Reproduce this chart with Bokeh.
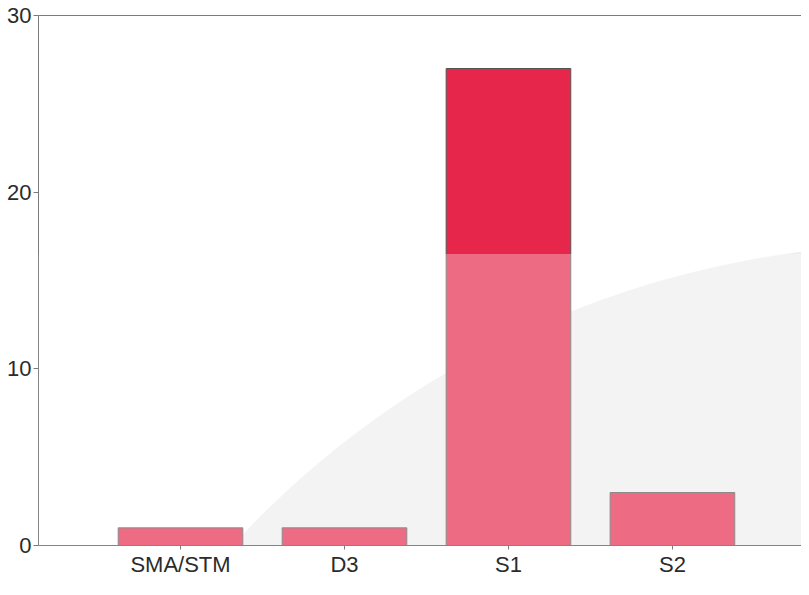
from bokeh.plotting import figure
from bokeh.models import Range1d, LinearAxis, FixedTicker, BoxAnnotation
from bokeh.embed import file_html
from bokeh.resources import INLINE

categories = ["SMA/STM", "D3", "S1", "S2"]
counts = [1, 1, 27, 3]
y_ticks = [0, 10, 20, 30]

positions = list(range(1, len(categories) + 1))

BAR = "#e6264b"
AXIS = "#7a7a7a"
TXT = "#2b2b2b"
FONT = "Liberation Sans"

p = figure(width=801, height=579, output_backend="svg", toolbar_location=None,
           x_range=Range1d(0.134, 4.787),
           y_range=Range1d(0, 30),
           min_border_left=38, min_border_right=0, min_border_top=15, min_border_bottom=0)
p.outline_line_color = None
p.background_fill_color = "white"
p.border_fill_color = "white"
p.xgrid.visible = False
p.ygrid.visible = False

# faint scan watermark disc (background decoration)
p.ellipse(x=[5.51], y=[-34.3], width=[11.27], height=[102.7],
          fill_color="#000000", fill_alpha=0.065, line_color=None)

p.vbar(x=positions, top=counts, width=0.76, fill_color=BAR,
       line_color="#555555", line_width=1)

# scan lightening over the lower part of the page
p.add_layout(BoxAnnotation(top=16.5, fill_color="white", fill_alpha=0.32,
                           line_color=None, level="overlay"))

# axes
yax = p.yaxis[0]
yax.ticker = FixedTicker(ticks=y_ticks)
yax.minor_tick_line_color = None
yax.major_tick_in = 0
yax.major_tick_out = 5
yax.major_label_standoff = 2
yax.axis_line_color = AXIS
yax.major_tick_line_color = AXIS
yax.major_label_text_font = FONT
yax.major_label_text_font_size = "22px"
yax.major_label_text_color = TXT

xax = p.xaxis[0]
xax.ticker = FixedTicker(ticks=positions)
xax.major_label_overrides = {pos: name for pos, name in zip(positions, categories)}
xax.minor_tick_line_color = None
xax.major_tick_in = 0
xax.major_tick_out = 4
xax.major_label_standoff = 2
xax.axis_line_color = AXIS
xax.major_tick_line_color = AXIS
xax.major_label_text_font = FONT
xax.major_label_text_font_size = "22px"
xax.major_label_text_color = TXT

top = LinearAxis(ticker=FixedTicker(ticks=[]), major_label_text_font_size="0px",
                 major_tick_line_color=None, minor_tick_line_color=None,
                 axis_line_color=AXIS)
p.add_layout(top, "above")

open("out.html", "w").write(file_html(p, INLINE))
